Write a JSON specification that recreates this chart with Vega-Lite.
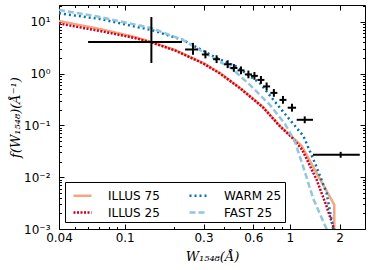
{
  "$schema": "https://vega.github.io/schema/vega-lite/v6.json",
  "width": 306,
  "height": 224,
  "autosize": "none",
  "padding": {"left": 59, "top": 5, "right": 9, "bottom": 41},
  "background": "#ffffff",
  "config": {
    "view": {"stroke": "#000000", "strokeWidth": 1},
    "axis": {
      "grid": false,
      "domain": false,
      "labelFlush": false,
      "tickColor": "#000000",
      "tickWidth": 1,
      "labelColor": "#000000",
      "labelFont": "DejaVu Sans",
      "labelFontSize": 12,
      "titleFont": "DejaVu Serif",
      "titleFontSize": 13,
      "titleFontWeight": "normal",
      "titleColor": "#000000"
    },
    "legend": {
      "orient": "none",
      "legendX": 6,
      "legendY": 177,
      "columns": 2,
      "strokeColor": "#000000",
      "fillColor": "#ffffff",
      "padding": 3,
      "cornerRadius": 0,
      "symbolType": "stroke",
      "symbolSize": 324,
      "symbolStrokeWidth": 2.5,
      "symbolOffset": 4,
      "labelFont": "DejaVu Sans",
      "labelFontSize": 12,
      "labelColor": "#000000",
      "labelOffset": 15,
      "labelLimit": 200,
      "columnPadding": 24,
      "rowPadding": 0
    }
  },
  "datasets": {
    "curves": [
      {"series": "ILLUS 75", "W": 0.04, "f": 10.3},
      {"series": "ILLUS 75", "W": 0.0708, "f": 7.23},
      {"series": "ILLUS 75", "W": 0.115, "f": 5.07},
      {"series": "ILLUS 75", "W": 0.145, "f": 4.06},
      {"series": "ILLUS 75", "W": 0.2015, "f": 2.85},
      {"series": "ILLUS 75", "W": 0.298, "f": 1.6},
      {"series": "ILLUS 75", "W": 0.377, "f": 1.03},
      {"series": "ILLUS 75", "W": 0.498, "f": 0.528},
      {"series": "ILLUS 75", "W": 0.687, "f": 0.227},
      {"series": "ILLUS 75", "W": 0.871, "f": 0.0977},
      {"series": "ILLUS 75", "W": 1.028, "f": 0.06},
      {"series": "ILLUS 75", "W": 1.178, "f": 0.0403},
      {"series": "ILLUS 75", "W": 1.452, "f": 0.012},
      {"series": "ILLUS 75", "W": 1.857, "f": 0.00294},
      {"series": "ILLUS 75", "W": 1.858, "f": 0.0001},
      {"series": "ILLUS 25", "W": 0.04, "f": 9.23},
      {"series": "ILLUS 25", "W": 0.0708, "f": 6.62},
      {"series": "ILLUS 25", "W": 0.115, "f": 4.85},
      {"series": "ILLUS 25", "W": 0.145, "f": 3.97},
      {"series": "ILLUS 25", "W": 0.2015, "f": 2.79},
      {"series": "ILLUS 25", "W": 0.298, "f": 1.57},
      {"series": "ILLUS 25", "W": 0.377, "f": 1.0},
      {"series": "ILLUS 25", "W": 0.498, "f": 0.523},
      {"series": "ILLUS 25", "W": 0.687, "f": 0.222},
      {"series": "ILLUS 25", "W": 0.871, "f": 0.0955},
      {"series": "ILLUS 25", "W": 1.028, "f": 0.0585},
      {"series": "ILLUS 25", "W": 1.188, "f": 0.0337},
      {"series": "ILLUS 25", "W": 1.452, "f": 0.0089},
      {"series": "ILLUS 25", "W": 1.669, "f": 0.00272},
      {"series": "ILLUS 25", "W": 1.85, "f": 0.001},
      {"series": "ILLUS 25", "W": 1.86, "f": 0.0001},
      {"series": "WARM 25", "W": 0.04, "f": 14.5},
      {"series": "WARM 25", "W": 0.0708, "f": 11.3},
      {"series": "WARM 25", "W": 0.145, "f": 6.92},
      {"series": "WARM 25", "W": 0.225, "f": 4.44},
      {"series": "WARM 25", "W": 0.36, "f": 2.0},
      {"series": "WARM 25", "W": 0.476, "f": 1.36},
      {"series": "WARM 25", "W": 0.659, "f": 0.65},
      {"series": "WARM 25", "W": 0.832, "f": 0.259},
      {"series": "WARM 25", "W": 1.0, "f": 0.1277},
      {"series": "WARM 25", "W": 1.205, "f": 0.0628},
      {"series": "WARM 25", "W": 1.419, "f": 0.0187},
      {"series": "WARM 25", "W": 1.669, "f": 0.00494},
      {"series": "WARM 25", "W": 1.829, "f": 0.001},
      {"series": "WARM 25", "W": 1.84, "f": 0.0001},
      {"series": "FAST 25", "W": 0.04, "f": 16.8},
      {"series": "FAST 25", "W": 0.0708, "f": 12.3},
      {"series": "FAST 25", "W": 0.145, "f": 7.56},
      {"series": "FAST 25", "W": 0.225, "f": 4.44},
      {"series": "FAST 25", "W": 0.36, "f": 1.83},
      {"series": "FAST 25", "W": 0.444, "f": 1.26},
      {"series": "FAST 25", "W": 0.573, "f": 0.603},
      {"series": "FAST 25", "W": 0.757, "f": 0.248},
      {"series": "FAST 25", "W": 0.934, "f": 0.107},
      {"series": "FAST 25", "W": 1.073, "f": 0.0481},
      {"series": "FAST 25", "W": 1.205, "f": 0.0158},
      {"series": "FAST 25", "W": 1.385, "f": 0.00384},
      {"series": "FAST 25", "W": 1.669, "f": 0.001},
      {"series": "FAST 25", "W": 1.68, "f": 0.0001}
    ],
    "points": [
      {"W": 0.145, "f": 4.06, "Wlo": 0.06, "Whi": 0.222, "flo": 1.6, "fhi": 12.3},
      {"W": 0.259, "f": 2.91, "Wlo": 0.232, "Whi": 0.278, "flo": 2.3, "fhi": 3.9},
      {"W": 0.308, "f": 2.33, "Wlo": 0.293, "Whi": 0.323, "flo": 1.96, "fhi": 2.77},
      {"W": 0.36, "f": 1.89, "Wlo": 0.343, "Whi": 0.378, "flo": 1.59, "fhi": 2.25},
      {"W": 0.42, "f": 1.51, "Wlo": 0.4, "Whi": 0.441, "flo": 1.27, "fhi": 1.8},
      {"W": 0.458, "f": 1.28, "Wlo": 0.436, "Whi": 0.481, "flo": 1.08, "fhi": 1.52},
      {"W": 0.506, "f": 1.15, "Wlo": 0.482, "Whi": 0.531, "flo": 0.97, "fhi": 1.37},
      {"W": 0.561, "f": 0.96, "Wlo": 0.534, "Whi": 0.589, "flo": 0.81, "fhi": 1.14},
      {"W": 0.61, "f": 0.9, "Wlo": 0.581, "Whi": 0.64, "flo": 0.76, "fhi": 1.07},
      {"W": 0.668, "f": 0.753, "Wlo": 0.636, "Whi": 0.701, "flo": 0.633, "fhi": 0.896},
      {"W": 0.723, "f": 0.564, "Wlo": 0.689, "Whi": 0.759, "flo": 0.474, "fhi": 0.671},
      {"W": 0.8, "f": 0.423, "Wlo": 0.762, "Whi": 0.84, "flo": 0.356, "fhi": 0.503},
      {"W": 0.908, "f": 0.31, "Wlo": 0.865, "Whi": 0.953, "flo": 0.261, "fhi": 0.369},
      {"W": 1.03, "f": 0.219, "Wlo": 0.97, "Whi": 1.09, "flo": 0.184, "fhi": 0.261},
      {"W": 1.23, "f": 0.128, "Wlo": 1.1, "Whi": 1.38, "flo": 0.11, "fhi": 0.149},
      {"W": 2.03, "f": 0.027, "Wlo": 1.38, "Whi": 2.65, "flo": 0.0237, "fhi": 0.0308}
    ]
  },
  "layer": [
    {
      "data": {"name": "curves"},
      "transform": [{"filter": "datum.series == 'ILLUS 75' || datum.series == 'ILLUS 25'"}],
      "mark": {"type": "line", "clip": true, "strokeWidth": 2.5},
      "encoding": {
        "x": {
          "field": "W", "type": "quantitative",
          "scale": {"type": "log", "domain": [0.04, 2.85], "nice": false},
          "axis": {
            "orient": "bottom", "values": [0.04, 0.1, 0.3, 0.6, 1, 2], "format": "~g",
            "tickSize": -5, "labelPadding": 8,
            "title": "W₁₅₄₈(Å)", "titleX": 153, "titleY": 27, "titleBaseline": "middle", "titleFontStyle": "italic"
          }
        },
        "y": {
          "field": "f", "type": "quantitative",
          "scale": {"type": "log", "domain": [0.001, 21], "nice": false},
          "axis": {
            "orient": "left", "values": [0.001, 0.01, 0.1, 1, 10],
            "labelExpr": "datum.value >= 5 ? '10¹' : datum.value >= 0.5 ? '10⁰' : datum.value >= 0.05 ? '10⁻¹' : datum.value >= 0.005 ? '10⁻²' : '10⁻³'",
            "tickSize": -5, "labelPadding": 14,
            "title": "f(W₁₅₄₈)(Å⁻¹)", "titleX": -44, "titleY": 112, "titleBaseline": "middle", "titleFontStyle": "italic"
          }
        },
        "color": {
          "field": "series", "type": "nominal",
          "scale": {"domain": ["ILLUS 75", "ILLUS 25", "WARM 25", "FAST 25"], "range": ["#f4a582", "#ca0020", "#0571b0", "#92c5de"]},
          "legend": {"title": null}
        },
        "strokeDash": {
          "field": "series", "type": "nominal",
          "scale": {"domain": ["ILLUS 75", "ILLUS 25", "WARM 25", "FAST 25"], "range": [[1, 0], [2, 1.5], [2, 3], [6, 3]]},
          "legend": {"title": null}
        }
      }
    },
    {
      "data": {"name": "curves"},
      "transform": [{"filter": "datum.series == 'WARM 25' || datum.series == 'FAST 25'"}],
      "mark": {"type": "line", "clip": true, "strokeWidth": 2.5},
      "encoding": {
        "x": {
          "field": "W", "type": "quantitative",
          "axis": {"orient": "top", "values": [0.04, 0.1, 0.3, 0.6, 1, 2], "labels": false, "tickSize": -5, "title": null}
        },
        "y": {
          "field": "f", "type": "quantitative",
          "axis": {"orient": "right", "values": [0.001, 0.01, 0.1, 1, 10], "labels": false, "tickSize": -5, "title": null}
        },
        "color": {"field": "series", "type": "nominal", "legend": {"title": null}},
        "strokeDash": {"field": "series", "type": "nominal", "legend": {"title": null}}
      }
    },
    {
      "data": {"name": "points"},
      "mark": {"type": "rule", "color": "#000000", "strokeWidth": 2, "clip": true},
      "encoding": {
        "x": {
          "field": "Wlo", "type": "quantitative",
          "axis": {"orient": "bottom", "values": [0.05, 0.06, 0.07, 0.08, 0.09, 0.2, 0.4, 0.5, 0.7, 0.8, 0.9], "labels": false, "tickSize": -2.5, "title": null}
        },
        "x2": {"field": "Whi"},
        "y": {
          "field": "f", "type": "quantitative",
          "axis": {"orient": "left", "values": [0.002, 0.003, 0.004, 0.005, 0.006, 0.007, 0.008, 0.009, 0.02, 0.03, 0.04, 0.05, 0.06, 0.07, 0.08, 0.09, 0.2, 0.3, 0.4, 0.5, 0.6, 0.7, 0.8, 0.9, 2, 3, 4, 5, 6, 7, 8, 9, 20], "labels": false, "tickSize": -2.5, "title": null}
        }
      }
    },
    {
      "data": {"name": "points"},
      "mark": {"type": "rule", "color": "#000000", "strokeWidth": 2, "clip": true},
      "encoding": {
        "x": {
          "field": "W", "type": "quantitative",
          "axis": {"orient": "top", "values": [0.05, 0.06, 0.07, 0.08, 0.09, 0.2, 0.4, 0.5, 0.7, 0.8, 0.9], "labels": false, "tickSize": -2.5, "title": null}
        },
        "y": {
          "field": "flo", "type": "quantitative",
          "axis": {"orient": "right", "values": [0.002, 0.003, 0.004, 0.005, 0.006, 0.007, 0.008, 0.009, 0.02, 0.03, 0.04, 0.05, 0.06, 0.07, 0.08, 0.09, 0.2, 0.3, 0.4, 0.5, 0.6, 0.7, 0.8, 0.9, 2, 3, 4, 5, 6, 7, 8, 9, 20], "labels": false, "tickSize": -2.5, "title": null}
        },
        "y2": {"field": "fhi"}
      }
    }
  ],
  "resolve": {"axis": {"x": "independent", "y": "independent"}}
}
